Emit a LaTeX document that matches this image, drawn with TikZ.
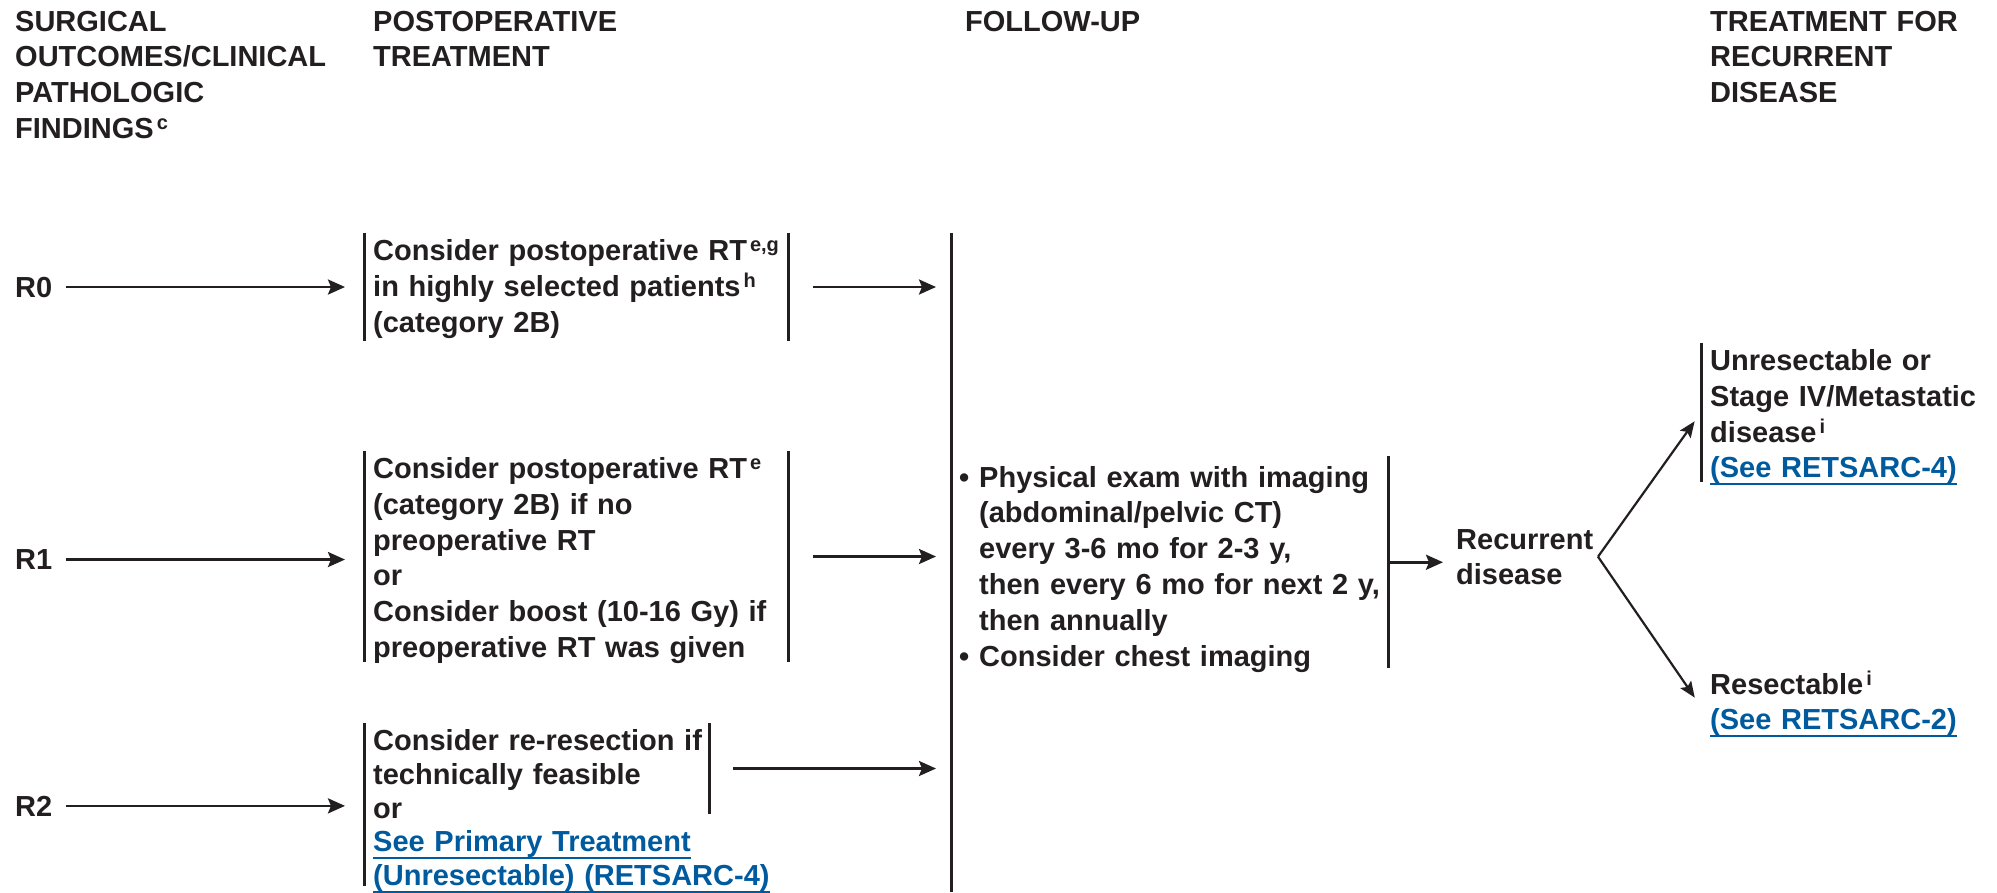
\documentclass[tikz,border=0pt]{standalone}
\usepackage{fontspec}
\setmainfont{Liberation Sans}
\usetikzlibrary{arrows.meta}
\definecolor{ink}{RGB}{35,31,32}
\definecolor{linkblue}{RGB}{0,90,158}
\newcommand{\bodyfont}{\fontsize{29}{35.8}\selectfont\bfseries}
\newcommand{\ftn}[1]{\hspace{3pt}\raisebox{9pt}{\fontsize{20}{20}\selectfont #1}}
\newcommand{\lnk}[1]{\leavevmode{\color{linkblue}\setbox0\hbox{#1}\rlap{\smash{\rule[-7pt]{\wd0}{2.2pt}}}\box0}}
\newcommand{\bul}{\makebox[20pt][l]{\textbullet}}
\newcommand{\ind}{\makebox[20pt]{}}
\tikzset{
  hdr/.style={anchor=base west, inner sep=0pt, align=left, text width=#1, font=\bodyfont, text=ink},
  lbl/.style={anchor=base west, inner sep=0pt, font=\bodyfont, text=ink},
  box/.style={anchor=base west, inner xsep=9pt, inner ysep=3.5pt, text height=24pt, align=left, font=\bodyfont, text=ink},
  bar/.style={line width=3pt, draw=ink},
  arr/.style={line width=2.6pt, draw=ink, fill=ink, -{Stealth[length=17pt,width=15pt,inset=3pt]}},
  fork/.style={line width=2.2pt, draw=ink, fill=ink, -{Stealth[length=16pt,width=13pt,inset=3pt]}}
}
\begin{document}
\begin{tikzpicture}[x=1pt, y=-1pt, line join=round]
\useasboundingbox (0,0) rectangle (1997,892);
% column heads
\node[hdr=340pt] (h1) at (15,31) {SURGICAL\\OUTCOMES/CLINICAL\\PATHOLOGIC\\FINDINGS\ftn{c}};
\node[hdr=300pt] (h2) at (373,31) {POSTOPERATIVE\\TREATMENT};
\node[hdr=300pt] (h3) at (965,31) {FOLLOW-UP};
\node[hdr=280pt] (h4) at (1710,31) {TREATMENT FOR\\RECURRENT\\DISEASE};

% margins
\node[lbl] (r0) at (15,297) {R0};
\node[lbl] (r1) at (15,569.5) {R1};
\node[lbl] (r2) at (15,816) {R2};

% postoperative treatment
\node[box, text width=406pt, text depth=77pt] (b0) at (364,260.5)
  {Consider postoperative RT\ftn{e,g}\\in highly selected patients\ftn{h}\\(category 2B)};
\node[box, text width=406pt, text depth=180pt] (b1) at (364,478.5)
  {Consider postoperative RT\ftn{e}\\(category 2B) if no\\preoperative RT\\or\\Consider boost (10-16 Gy) if\\preoperative RT was given};
\node[box, text width=406pt, text depth=132pt, font=\fontsize{29}{33.8}\selectfont\bfseries] (b2) at (364,750.5)
  {Consider re-resection if\\technically feasible\\or\\\lnk{See Primary Treatment}\\\lnk{(Unresectable) (RETSARC-4)}};

% follow-up
\node[box, inner xsep=8pt, text width=421pt, text height=27pt, text depth=177.5pt] (fu) at (951,487)
  {\bul Physical exam with imaging\\\ind(abdominal/pelvic CT)\\\ind every 3-6 mo for 2-3 y,\\\ind then every 6 mo for next 2 y,\\\ind then annually\\\bul Consider chest imaging};
\node[box, inner xsep=5pt, text width=150pt, text depth=39.4pt] (rec) at (1451,549) {Recurrent\\disease};

% recurrent disease
\node[box, text width=275pt, text depth=107.7pt] (unres) at (1701,370.5)
  {Unresectable or\\Stage IV/Metastatic\\disease\ftn{i}\\\lnk{(See RETSARC-4)}};
\node[box, text width=275pt, text depth=49.4pt] (resec) at (1701,694)
  {Resectable\ftn{i}\\\lnk{(See RETSARC-2)}};

\coordinate (bottom) at (0,892);
\coordinate (b2top) at (709,723);
\coordinate (b2bot) at (709,814);
\coordinate (b2r) at (709,768.5);
\coordinate (split) at ([xshift=147pt]rec.west);

% bars
\draw[bar] (b0.north west) -- (b0.south west) (b0.north east) -- (b0.south east);
\draw[bar] (b1.north west) -- (b1.south west) (b1.north east) -- (b1.south east);
\draw[bar] (b2.north west) -- (b2.south west) (b2top) -- (b2bot);
\draw[bar] (fu.west |- b0.north) -- (fu.west |- bottom);
\draw[bar] (fu.north east) -- (fu.south east);
\draw[bar] (unres.north west) -- (unres.south west);

% arrows
\draw[arr, shorten <=14pt, shorten >=19pt] (r0.east) -- (r0.east -| b0.west);
\draw[arr, shorten <=14pt, shorten >=19pt] (r1.east) -- (r1.east -| b1.west);
\draw[arr, shorten <=14pt, shorten >=19pt] (r2.east) -- (r2.east -| b2.west);
\draw[arr, shorten <=25pt, shorten >=15pt] (b0.east) -- (b0.east -| fu.west);
\draw[arr, shorten <=25pt, shorten >=15pt] (b1.east) -- (b1.east -| fu.west);
\draw[arr, shorten <=24pt, shorten >=15pt] (b2r) -- (b2r -| fu.west);
\draw[arr, shorten >=8pt] (fu.east) -- (fu.east -| rec.west);
\draw[fork, shorten >=11pt] (split) -- (unres.west);
\draw[fork, shorten >=11pt] (split) -- (resec.west);
\end{tikzpicture}
\end{document}
